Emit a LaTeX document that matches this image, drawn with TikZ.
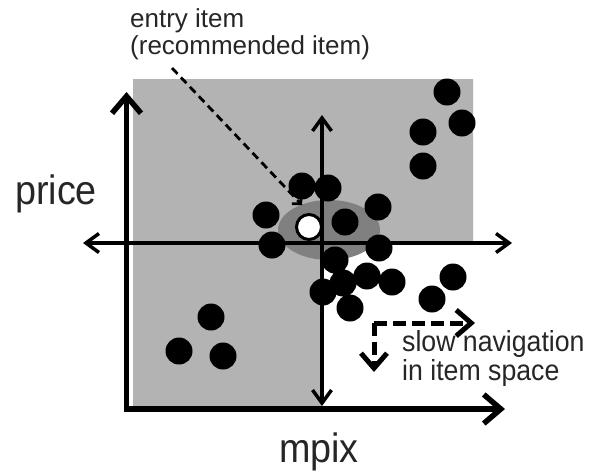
\documentclass[tikz,border=0pt]{standalone}
\usepackage{fontspec}
\setmainfont{Liberation Sans}
\newfontfamily\narrowsans[FakeStretch=0.92]{Liberation Sans}
\usepackage{xcolor}
\usetikzlibrary{arrows.meta}

\definecolor{spacegray}{HTML}{B3B3B3}
\definecolor{neargray}{HTML}{808080}
\definecolor{labelgray}{HTML}{262626}

\tikzset{
	thin axis/.style = {line width = 3.5pt, arrows = {Straight Barb[length = 13pt, width = 19pt]-Straight Barb[length = 13pt, width = 19pt]}},
	thick axis/.style = {line width = 5.5pt, arrows = {Straight Barb[length = 17pt, width = 29pt]-Straight Barb[length = 17pt, width = 29pt]}},
	pointer/.style = {line width = 2.8pt, dash pattern = on 8pt off 5pt, arrows = {-Straight Barb[length = 6pt, width = 13pt]}},
	nav arrow/.style = {line width = 5pt, dash pattern = on 13pt off 6pt, arrows = {-Straight Barb[length = 15pt, width = 26pt]}},
	axis label/.style = {text = labelgray, inner sep = 0pt, anchor = base west, font = \narrowsans\fontsize{41}{41}\selectfont},
	note label/.style = {text = labelgray, inner sep = 0pt, anchor = base west, align = left}
}

\begin{document}
\begin{tikzpicture}[x = 1pt, y = -1pt]
		\def\itemspace{(133,79) -- (473,79) -- (473,243) -- (322,243) -- (322,406) -- (133,406) -- cycle};
		\def\neighbourhood{(329,230) ellipse [x radius = 51pt, y radius = 30pt]};
		\def\items{
			(302,186) circle [radius = 13.5pt] (328,188) circle [radius = 13.5pt]
			(266,215) circle [radius = 13.5pt] (272,245) circle [radius = 13.5pt]
			(345,222) circle [radius = 13.5pt] (378,207) circle [radius = 13.5pt]
			(379,248) circle [radius = 13.5pt] (335,260) circle [radius = 13.5pt]
			(367,276) circle [radius = 13.5pt] (343,283) circle [radius = 13.5pt]
			(392,282) circle [radius = 13.5pt] (323,292) circle [radius = 13.5pt]
			(350,308) circle [radius = 13.5pt] (453,277) circle [radius = 13.5pt]
			(432,299) circle [radius = 13.5pt]
			(447,92) circle [radius = 13.5pt] (462,123) circle [radius = 13.5pt]
			(423,132) circle [radius = 13.5pt] (423,166) circle [radius = 13.5pt]
			(211,317) circle [radius = 13.5pt] (179,351) circle [radius = 13.5pt]
			(223,356) circle [radius = 13.5pt]
		};
		
		\useasboundingbox (0,0) rectangle (589,472);
		
		\begin{scope}
			\fill [spacegray] \itemspace;
			\fill [neargray] \neighbourhood;
		\end{scope}
		
		\begin{scope}
			\coordinate (origin) at (126.5,409);
			\coordinate (price end) at (126.5,92);
			\coordinate (mpix end) at (505,409);
			\coordinate (left end) at (83,243);
			\coordinate (right end) at (512,243);
			\coordinate (top end) at (322,115);
			\coordinate (bottom end) at (322,406);
			
			\draw [thick axis] (price end) -- (origin) -- (mpix end);
			\draw [thin axis] (left end) -- (right end);
			\draw [thin axis] (top end) -- (bottom end);
		\end{scope}
		
		\begin{scope}
			\fill \items;
			\node [circle, draw, fill = white, line width = 3pt, minimum size = 25pt, inner sep = 0pt] (entry item) at (309,227) {};
		\end{scope}
		
		\begin{scope}
			\node [axis label] (price) at (15,204) {price};
			\node [axis label] (mpix) at (279,462) {mpix};
			\node [note label, font = \fontsize{26}{27}\selectfont] (entry label) at (130,54) {entry item\\(recommended item)};
			\node [note label, font = \narrowsans\fontsize{29}{23.5}\selectfont] (nav label) at (402,380) {slow navigation\\in item space};
		\end{scope}
		
		\begin{scope}
			\coordinate (hint) at (172,68);
			\coordinate (hint tip) at (302,205);
			\coordinate (nav) at (374,323);
			\coordinate (nav right) at (475,323);
			\coordinate (nav down) at (374,372);
			
			\draw [pointer] (hint) -- (hint tip);
			\draw [nav arrow] (nav) -- (nav right);
			\draw [nav arrow] (nav) -- (nav down);
		\end{scope}
	\end{tikzpicture}
\end{document}
